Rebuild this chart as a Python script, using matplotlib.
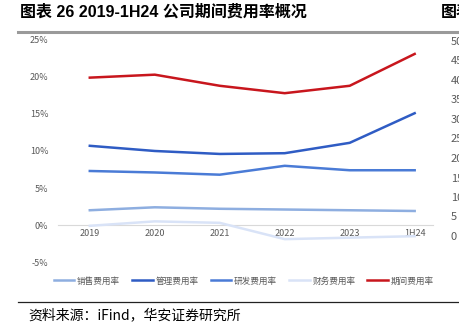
import matplotlib.pyplot as plt

plt.rcParams['font.family'] = ['Noto Sans CJK SC', 'DejaVu Sans']

years = ['2019', '2020', '2021', '2022', '2023', '1H24']
sales = [2.0, 2.4, 2.2, 2.1, 2.0, 1.9]
admin = [10.7, 10.0, 9.6, 9.7, 11.1, 15.1]
rnd = [7.3, 7.1, 6.8, 8.0, 7.4, 7.4]
finance = [-0.1, 0.5, 0.3, -1.9, -1.7, -1.5]
period = [19.9, 20.3, 18.8, 17.8, 18.8, 23.1]

series = [
    ('销售费用率', sales, '#8eaee0'),
    ('管理费用率', admin, '#2f5cc4'),
    ('研发费用率', rnd, '#4a7bd6'),
    ('财务费用率', finance, '#d9e3f7'),
    ('期间费用率', period, '#c8161d'),
]

right_ticks = ['50', '45', '40', '35', '30', '25', '20', '15', '10', '5', '0']


def main():
    fig = plt.figure(figsize=(4.6, 3.24), dpi=100)
    ax = fig.add_axes([0.126, 0.191, 0.815, 0.686])
    x = list(range(len(years)))
    for name, vals, col in series:
        ax.plot(x, vals, color=col, lw=1.8, label=name)

    ax.set_xlim(-0.49, 5.28)
    ax.set_ylim(-5, 25)
    ax.set_yticks([-5, 0, 5, 10, 15, 20, 25])
    ax.set_yticklabels(['%d%%' % v for v in [-5, 0, 5, 10, 15, 20, 25]])
    ax.set_xticks(x)
    ax.set_xticklabels(years)
    for s in ['top', 'right', 'left']:
        ax.spines[s].set_visible(False)
    ax.spines['bottom'].set_position(('data', 0))
    ax.spines['bottom'].set_color('#d9d9d9')
    ax.spines['bottom'].set_zorder(0)
    ax.tick_params(length=0, labelsize=6.5, colors='#595959', pad=3)
    ax.tick_params(axis='y', pad=7)

    fig.legend(loc='center', bbox_to_anchor=(0.53, 0.133), ncol=5, frameon=False,
               fontsize=6.2, handlelength=2.4, handletextpad=0.3, columnspacing=1.4,
               labelcolor='#595959')

    fig.text(20 / 460, 1 - 12 / 324, '图表 26 2019-1H24 公司期间费用率概况', fontsize=11.5,
             fontweight='bold', va='center', ha='left',
             family=['Liberation Sans', 'Noto Sans CJK SC'])
    fig.text(441 / 460, 1 - 12 / 324, '图表', fontsize=11.5, fontweight='bold',
             va='center', ha='left')
    fig.add_artist(plt.Line2D([18 / 460, 1], [1 - 32 / 324] * 2, color='#9a9a9a', lw=2.2))
    fig.add_artist(plt.Line2D([18 / 460, 1], [1 - 302 / 324] * 2, color='#222222', lw=0.9))
    fig.text(28 / 460, 1 - 315 / 324, '资料来源：iFind，华安证券研究所', fontsize=10,
             va='center', ha='left')

    for i, t in enumerate(right_ticks):
        fig.text(451 / 460, 1 - (42 + i * 19.5) / 324, t, fontsize=8, color='#595959',
                 va='center', ha='left')

    fig.savefig('out.png', dpi=100)


if __name__ == '__main__':
    main()
